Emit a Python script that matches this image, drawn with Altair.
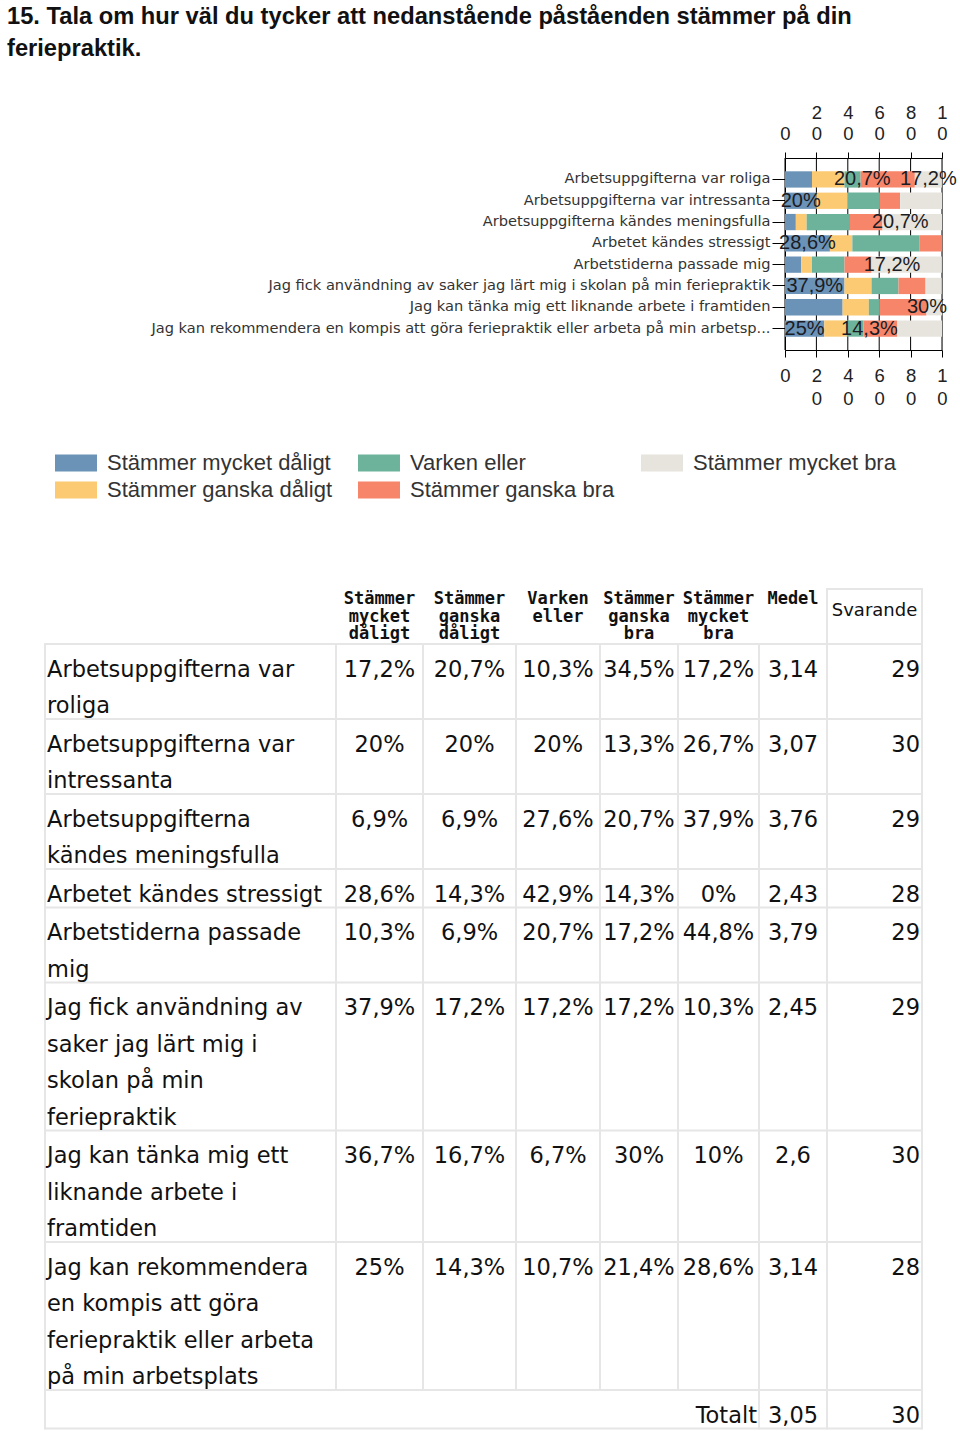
import altair as alt
import pandas as pd

# ---------------- data ----------------
title_lines = [
    "15. Tala om hur väl du tycker att nedanstående påståenden stämmer på din",
    "feriepraktik.",
]

categories = [
    "Stämmer mycket dåligt",
    "Stämmer ganska dåligt",
    "Varken eller",
    "Stämmer ganska bra",
    "Stämmer mycket bra",
]
colors = ["#6b93b8", "#fcca73", "#6db39c", "#f7856a", "#e6e4dd"]

chart_labels = [
    "Arbetsuppgifterna var roliga",
    "Arbetsuppgifterna var intressanta",
    "Arbetsuppgifterna kändes meningsfulla",
    "Arbetet kändes stressigt",
    "Arbetstiderna passade mig",
    "Jag fick användning av saker jag lärt mig i skolan på min feriepraktik",
    "Jag kan tänka mig ett liknande arbete i framtiden",
    "Jag kan rekommendera en kompis att göra feriepraktik eller arbeta på min arbetsp...",
]

table_lines = [
    ["Arbetsuppgifterna var", "roliga"],
    ["Arbetsuppgifterna var", "intressanta"],
    ["Arbetsuppgifterna", "kändes meningsfulla"],
    ["Arbetet kändes stressigt"],
    ["Arbetstiderna passade", "mig"],
    ["Jag fick användning av", "saker jag lärt mig i", "skolan på min", "feriepraktik"],
    ["Jag kan tänka mig ett", "liknande arbete i", "framtiden"],
    ["Jag kan rekommendera", "en kompis att göra", "feriepraktik eller arbeta", "på min arbetsplats"],
]

pct_mycket_daligt = [17.2, 20, 6.9, 28.6, 10.3, 37.9, 36.7, 25]
pct_ganska_daligt = [20.7, 20, 6.9, 14.3, 6.9, 17.2, 16.7, 14.3]
pct_varken = [10.3, 20, 27.6, 42.9, 20.7, 17.2, 6.7, 10.7]
pct_ganska_bra = [34.5, 13.3, 20.7, 14.3, 17.2, 17.2, 30, 21.4]
pct_mycket_bra = [17.2, 26.7, 37.9, 0, 44.8, 10.3, 10, 28.6]
medel = [3.14, 3.07, 3.76, 2.43, 3.79, 2.45, 2.6, 3.14]
svarande = [29, 30, 29, 28, 29, 29, 30, 28]
total_label = "Totalt"
total_medel = 3.05
total_svarande = 30

header_lines = [
    ["Stämmer", "mycket", "dåligt"],
    ["Stämmer", "ganska", "dåligt"],
    ["Varken", "eller"],
    ["Stämmer", "ganska", "bra"],
    ["Stämmer", "mycket", "bra"],
    ["Medel"],
]
svarande_header = "Svarande"

ticks = [0, 20, 40, 60, 80, 100]

# value labels visible on the bars: (row, category)
labels_centered = [(0, 4), (1, 0), (3, 0), (5, 0), (7, 0)]
labels_shifted = [(0, 1), (2, 3), (4, 3), (7, 1)]
labels_shifted_less = [(6, 3)]

# ---------------- helpers ----------------
def fmt(v):
    return f"{v:g}".replace(".", ",")

series = [pct_mycket_daligt, pct_ganska_daligt, pct_varken, pct_ganska_bra, pct_mycket_bra]

rows = []
for i, lab in enumerate(chart_labels):
    start = 0.0
    for j, cat in enumerate(categories):
        v = series[j][i]
        rows.append(dict(statement=lab, category=cat, ci=j, ri=i,
                         start=start, end=start + v, mid=start + v / 2,
                         text=fmt(v) + "%"))
        start += v
bar_df = pd.DataFrame(rows)


def label_df(pairs):
    return bar_df[[(r, c) in pairs for r, c in zip(bar_df.ri, bar_df.ci)]]


# ---------------- bar chart ----------------
W, H = 157, 192
xs = alt.Scale(domain=[0, 100], nice=False, zero=True)
ys = alt.Scale(type="band", domain=chart_labels, paddingInner=0.235, paddingOuter=0.625)

axis_font = "Liberation Sans"
tick_label_expr_bottom = "datum.value == 0 ? '0' : [substring(datum.label, 0, 1), substring(datum.label, 1, 2)]"
tick_label_expr_top = "datum.value == 0 ? ['', '0'] : [substring(datum.label, 0, 1), substring(datum.label, 1, 2)]"

grid_layer = alt.Chart(pd.DataFrame({"t": ticks})).mark_rule(color="black", strokeWidth=1).encode(
    x=alt.X("t:Q", scale=xs, title=None,
            axis=alt.Axis(orient="top", values=ticks, format="d", labelExpr=tick_label_expr_top,
                          labelFont=axis_font, labelFontSize=18.5, labelLineHeight=21,
                          labelBaseline="alphabetic",
                          labelColor="#222", labelPadding=34, tickSize=6, tickColor="black",
                          domainColor="black", grid=False, labelFlush=False, labelOverlap=False,
                          labelAngle=0))
)

bars = alt.Chart(bar_df).mark_bar(strokeWidth=0).encode(
    x=alt.X("start:Q", scale=xs, title=None,
            axis=alt.Axis(orient="bottom", values=ticks, format="d", labelExpr=tick_label_expr_bottom,
                          labelFont=axis_font, labelFontSize=18.5, labelLineHeight=23,
                          labelColor="#222", labelPadding=9, tickSize=7, tickColor="black",
                          domainColor="black", grid=False, labelFlush=False, labelOverlap=False,
                          labelAngle=0)),
    x2="end:Q",
    y=alt.Y("statement:N", scale=ys, sort=chart_labels, title=None,
            axis=alt.Axis(orient="left", labelFont="DejaVu Sans", labelFontSize=14.6,
                          labelColor="#333", labelLimit=800, tickSize=13, tickColor="black",
                          domainColor="black", labelPadding=2)),
    color=alt.Color("category:N", scale=alt.Scale(domain=categories, range=colors),
                    legend=alt.Legend(title=None, orient="none", legendX=-720, legendY=294,
                                      direction="horizontal", columns=3,
                                      values=[categories[0], categories[2], categories[4],
                                              categories[1], categories[3]],
                                      symbolType="M-2.47,-1H2.47V1H-2.47Z", symbolSize=289,
                                      symbolStrokeWidth=0, symbolOpacity=1,
                                      labelFont="Liberation Sans", labelFontSize=22,
                                      labelColor="#333", labelOffset=20, labelLimit=400,
                                      columnPadding=26, rowPadding=5)),
    order=alt.Order("ci:Q"),
)


def value_labels(pairs, dx):
    return alt.Chart(label_df(pairs)).mark_text(
        font="Liberation Sans", fontSize=20, color="#1c1c24", dx=dx, baseline="middle"
    ).encode(
        x=alt.X("mid:Q", scale=xs, axis=None),
        y=alt.Y("statement:N", scale=ys, sort=chart_labels, axis=None),
        text="text:N",
    )


lab0 = value_labels(labels_centered, 0)
lab1 = value_labels(labels_shifted, 34)
lab2 = value_labels(labels_shifted_less, 24)

# ---------------- table ----------------
COL_W = [291, 87, 93, 84, 78, 81, 68, 95]
HEADER_H = 55
LINE_H = 36.5
BORDER = 2
BASE_OFF = 31.5
TABLE_W = sum(COL_W)
TABLE_H = 843

edges = [0]
for w in COL_W:
    edges.append(edges[-1] + w)
centers = [(edges[k] + edges[k + 1]) / 2 for k in range(len(COL_W))]

tx = alt.Scale(domain=[0, TABLE_W], range=[45 - 785, 45 - 785 + TABLE_W], nice=False, zero=False)
ty = alt.Scale(domain=[0, TABLE_H], range=[588 - 158, 588 - 158 + TABLE_H], nice=False, zero=False)

row_tops = []
y = HEADER_H + BORDER
for lines in table_lines:
    row_tops.append(y)
    y += len(lines) * LINE_H + BORDER
total_top = y
table_bottom = total_top + LINE_H + BORDER

# text records
left_txt, center_txt, right_txt, head_txt, head2_txt = [], [], [], [], []
for i, lines in enumerate(table_lines):
    top = row_tops[i]
    for k, ln in enumerate(lines):
        left_txt.append(dict(x=edges[0] + 2, y=top + BASE_OFF + k * LINE_H, t=ln))
    vals = [fmt(s[i]) + "%" for s in series] + [fmt(medel[i])]
    for c, v in enumerate(vals):
        center_txt.append(dict(x=centers[c + 1], y=top + BASE_OFF, t=v))
    right_txt.append(dict(x=edges[8] - 2, y=top + BASE_OFF, t=str(svarande[i])))
right_txt.append(dict(x=edges[6] - 2, y=total_top + BASE_OFF, t=total_label))
right_txt.append(dict(x=edges[8] - 2, y=total_top + BASE_OFF, t=str(total_svarande)))
center_txt.append(dict(x=centers[6], y=total_top + BASE_OFF, t=fmt(total_medel)))
for c, hl in enumerate(header_lines):
    for k, ln in enumerate(hl):
        head_txt.append(dict(x=centers[c + 1], y=16 + k * 17.5, t=ln))
head2_txt.append(dict(x=centers[7], y=28, t=svarande_header))

# border segments
hseg = [dict(x0=edges[7], x1=edges[8], y=1)]
hseg.append(dict(x0=0, x1=TABLE_W, y=HEADER_H + 1))
for i, lines in enumerate(table_lines):
    hseg.append(dict(x0=0, x1=TABLE_W, y=row_tops[i] + len(lines) * LINE_H + 1))
hseg.append(dict(x0=0, x1=TABLE_W, y=table_bottom - 1))
vseg = []
for k, e in enumerate(edges):
    y0 = 0 if k in (7, 8) else HEADER_H
    y1 = table_bottom if k in (0, 6, 7, 8) else total_top
    vseg.append(dict(x=e, y0=y0, y1=y1))

grid_color = "#e6e6e6"
hlines = alt.Chart(pd.DataFrame(hseg)).mark_rule(color=grid_color, strokeWidth=2).encode(
    x=alt.X("x0:Q", scale=tx, axis=None), x2="x1:Q",
    y=alt.Y("y:Q", scale=ty, axis=None))
vlines = alt.Chart(pd.DataFrame(vseg)).mark_rule(color=grid_color, strokeWidth=2).encode(
    x=alt.X("x:Q", scale=tx, axis=None),
    y=alt.Y("y0:Q", scale=ty, axis=None), y2="y1:Q")


def table_text(recs, align, font, size, weight="normal"):
    return alt.Chart(pd.DataFrame(recs)).mark_text(
        align=align, baseline="alphabetic", font=font, fontSize=size, fontWeight=weight, color="#111"
    ).encode(
        x=alt.X("x:Q", scale=tx, axis=None),
        y=alt.Y("y:Q", scale=ty, axis=None),
        text="t:N",
    )


body_font = "DejaVu Sans"
t_left = table_text(left_txt, "left", body_font, 22.5)
t_center = table_text(center_txt, "center", body_font, 22.5)
t_right = table_text(right_txt, "right", body_font, 22.5)
t_head = table_text(head_txt, "center", "DejaVu Sans Mono", 17, "bold")
t_head2 = table_text(head2_txt, "center", body_font, 18)

chart = alt.layer(
    grid_layer, bars, lab0, lab1, lab2,
    hlines, vlines, t_left, t_center, t_right, t_head, t_head2,
).resolve_scale(
    x="independent", y="independent"
).properties(
    width=W, height=H,
    autosize=alt.AutoSizeParams(type="none"),
    padding={"left": 785, "top": 158, "right": 18, "bottom": 1081},
    title=alt.TitleParams(text=title_lines, anchor="start", frame="group",
                          font="Liberation Sans", fontSize=23.7, fontWeight="bold",
                          color="#111", lineHeight=32, dx=-778, offset=42),
).configure_view(stroke=None).configure(background="white")

chart.save("out.html", embed_options={"renderer": "svg", "actions": False})
